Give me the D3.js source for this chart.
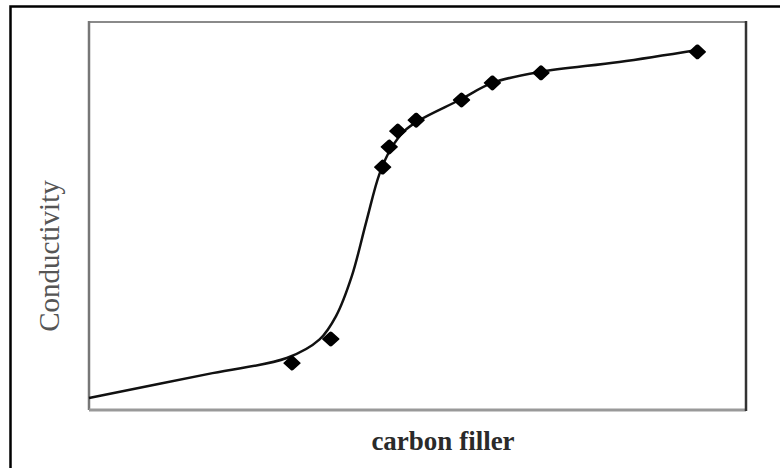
<!DOCTYPE html>
<html>

<head>
    <title>Conductivity vs carbon filler</title>
    <script src="https://cdn.jsdelivr.net/npm/d3@7"></script>
    <meta http-equiv="content-type" content="text/html; charset=utf-8">
    <style>
        body { margin: 0; background: #fff; }
        .label { font-family: "Liberation Serif", "DejaVu Serif", serif; }
    </style>
</head>

<body>
</body>
<script type="text/javascript">
// Measured points (diamond markers)
var pointX = [30.9, 36.8, 44.7, 45.7, 47.0, 49.8, 56.7, 61.4, 68.8, 92.6];
var pointY = [12.1, 18.3, 62.6, 67.8, 71.9, 74.7, 79.9, 84.3, 86.9, 92.3];

// Trend curve drawn through the data
var curveX = [0, 18.8, 30.1, 35.1, 37.6, 40.0, 42.2, 44.2, 46.0, 48.0, 50.3, 56.4, 61.4, 68.5, 80.7, 92.6];
var curveY = [3.1, 9.5, 13.4, 18.2, 24.2, 34.5, 48.5, 60.8, 67.5, 71.9, 74.7, 79.9, 84.3, 87.1, 89.7, 92.8];

var xTitle = 'carbon filler';
var yTitle = 'Conductivity';

var width = 780,
    height = 468;
var margin = { left: 89, right: 34, top: 22, bottom: 58 };

var svg = d3.select('body').append('svg')
    .attr('width', width)
    .attr('height', height);

// outer frame, runs off the right and bottom edge
svg.append('rect')
    .attr('x', 10.5).attr('y', 6.5)
    .attr('width', 800).attr('height', 500)
    .attr('fill', 'none')
    .attr('stroke', '#000')
    .attr('stroke-width', 2.5);

var x = d3.scaleLinear().domain([0, 100]).range([margin.left, width - margin.right]);
var y = d3.scaleLinear().domain([0, 100]).range([height - margin.bottom, margin.top]);

// plot box: grey left/top/bottom, dark right
var x0 = x.range()[0], x1 = x.range()[1];
var y0 = y.range()[0], y1 = y.range()[1];
svg.append('line').attr('x1', x0).attr('x2', x1).attr('y1', y1).attr('y2', y1)
    .attr('stroke', '#8a8a8a').attr('stroke-width', 2);
svg.append('line').attr('x1', x0).attr('x2', x0).attr('y1', y1 - 1).attr('y2', y0)
    .attr('stroke', '#777').attr('stroke-width', 2.5);
svg.append('line').attr('x1', x0).attr('x2', x1).attr('y1', y0).attr('y2', y0)
    .attr('stroke', '#999').attr('stroke-width', 3);
svg.append('line').attr('x1', x1).attr('x2', x1).attr('y1', y1 - 1).attr('y2', y0 + 1)
    .attr('stroke', '#333').attr('stroke-width', 2.5);

// trend curve
var line = d3.line()
    .x(function(d) { return x(d[0]); })
    .y(function(d) { return y(d[1]); })
    .curve(d3.curveCatmullRom.alpha(0.5));

svg.append('path')
    .datum(d3.zip(curveX, curveY))
    .attr('d', line)
    .attr('fill', 'none')
    .attr('stroke', '#111')
    .attr('stroke-width', 2.5);

// diamond markers
var diamond = d3.symbol().type(d3.symbolDiamond).size(80);
svg.selectAll('.pt')
    .data(d3.zip(pointX, pointY))
    .enter().append('path')
    .attr('class', 'pt')
    .attr('d', diamond)
    .attr('transform', function(d) {
        return 'translate(' + x(d[0]) + ',' + y(d[1]) + ') scale(1.5,0.8)';
    })
    .attr('fill', '#000')
    .attr('stroke', '#000')
    .attr('stroke-width', 2)
    .attr('stroke-linejoin', 'round');

// axis titles
svg.append('text')
    .attr('class', 'label')
    .attr('x', 443).attr('y', 450)
    .attr('text-anchor', 'middle')
    .attr('font-size', 27)
    .attr('font-weight', 'bold')
    .attr('fill', '#2a2a2a')
    .text(xTitle);

svg.append('text')
    .attr('class', 'label')
    .attr('transform', 'translate(59,256) rotate(-90)')
    .attr('text-anchor', 'middle')
    .attr('font-size', 29)
    .attr('fill', '#555')
    .text(yTitle);
</script>

</html>
